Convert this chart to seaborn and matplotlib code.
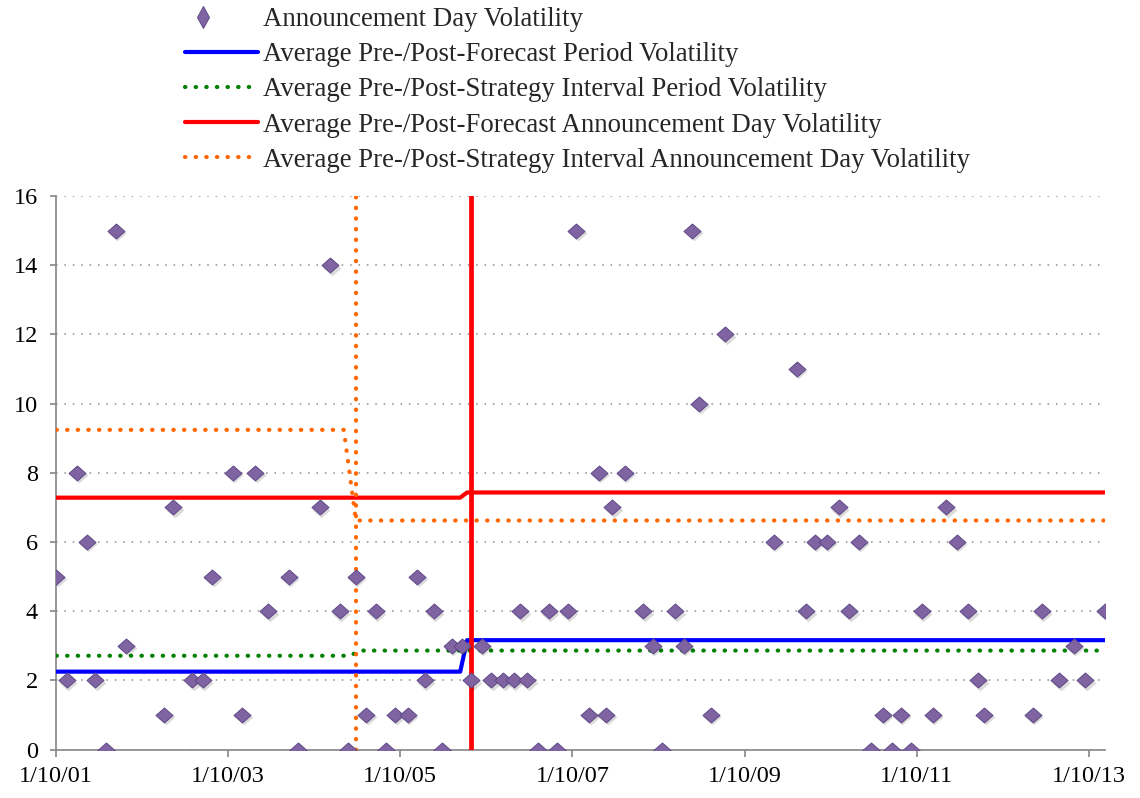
import matplotlib
matplotlib.use("Agg")
import matplotlib.pyplot as plt
import matplotlib.transforms as mtransforms
from matplotlib.path import Path
from matplotlib.lines import Line2D
from matplotlib.legend_handler import HandlerLine2D
import seaborn as sns
import pandas as pd
import numpy as np

# ---------------- data (decimal years) ----------------
announce_year = [
    2001.03, 2001.15, 2001.27, 2001.38, 2001.48, 2001.61, 2001.72, 2001.84,
    2002.28, 2002.39, 2002.61, 2002.73, 2002.84, 2003.08, 2003.19, 2003.34,
    2003.49, 2003.73, 2003.84, 2004.09, 2004.21, 2004.32, 2004.42, 2004.51,
    2004.63, 2004.74, 2004.86, 2004.97, 2005.11, 2005.22, 2005.31, 2005.41,
    2005.51, 2005.62, 2005.74, 2005.85, 2005.97, 2006.08, 2006.22, 2006.34,
    2006.42, 2006.50, 2006.63, 2006.75, 2006.84, 2006.97, 2007.07, 2007.22,
    2007.33, 2007.42, 2007.49, 2007.63, 2007.85, 2007.96, 2008.07, 2008.22,
    2008.32, 2008.42, 2008.50, 2008.63, 2008.80, 2009.36, 2009.63, 2009.74,
    2009.84, 2009.98, 2010.12, 2010.24, 2010.35, 2010.49, 2010.63, 2010.74,
    2010.84, 2010.96, 2011.08, 2011.21, 2011.37, 2011.49, 2011.62, 2011.74,
    2011.81, 2012.37, 2012.48, 2012.68, 2012.85, 2012.98, 2013.21,
]
announce_vol = [
    5, 2, 8, 6, 2, 0, 15, 3,
    1, 7, 2, 2, 5, 8, 1, 8,
    4, 5, 0, 7, 14, 4, 0, 5,
    1, 4, 0, 1, 1, 5, 2, 4,
    0, 3, 3, 2, 3, 2, 2, 2,
    4, 2, 0, 4, 0, 4, 15, 1,
    8, 1, 7, 8, 4, 3, 0, 4,
    3, 15, 10, 1, 12, 6, 11, 4,
    6, 6, 7, 4, 6, 0, 1, 0,
    1, 0, 4, 1, 7, 6, 4, 2,
    1, 1, 4, 2, 3, 2, 4,
]

# average lines (break points)
forecast_avg_x = [2001.03, 2005.72, 2005.80, 2013.21]
forecast_period_avg = [2.25, 2.25, 3.16, 3.16]
forecast_ann_avg = [7.28, 7.28, 7.43, 7.43]
strategy_period_x = [2001.03, 2004.44, 2004.56, 2013.21]
strategy_period_avg = [2.71, 2.71, 2.86, 2.86]
strategy_ann_x = [2001.03, 2004.37, 2004.51, 2013.21]
strategy_ann_avg = [9.24, 9.24, 6.62, 6.62]

strategy_date = 2004.51
forecast_date = 2005.84
vline_y = [0, 16]

tick_dates = ["2001-01-10", "2003-01-10", "2005-01-10", "2007-01-10",
              "2009-01-10", "2011-01-10", "2013-01-10"]
tick_labels = ["1/10/01", "1/10/03", "1/10/05", "1/10/07",
               "1/10/09", "1/10/11", "1/10/13"]

labels = [
    "Announcement Day Volatility",
    "Average Pre-/Post-Forecast Period Volatility",
    "Average Pre-/Post-Strategy Interval Period Volatility",
    "Average Pre-/Post-Forecast Announcement Day Volatility",
    "Average Pre-/Post-Strategy Interval Announcement Day Volatility",
]


def to_date(y):
    yr = int(np.floor(y))
    return pd.Timestamp(year=yr, month=1, day=1) + pd.Timedelta(days=(y - yr) * 365.25)


def dates(lst):
    return [to_date(v) for v in lst]


# ---------------- style ----------------
sns.set_theme(style="white")
plt.rcParams["font.family"] = ["Liberation Serif", "DejaVu Serif"]

fig, ax = plt.subplots(figsize=(11.4, 7.98), dpi=100)
ax.set_position([56 / 1140, 1 - 749.5 / 798, (1105 - 56) / 1140, (749.5 - 196) / 798])

DOT = dict(dash_capstyle="round")
dotted = (0, (0.1, 2.45))

# average lines
sns.lineplot(x=dates(forecast_avg_x), y=forecast_period_avg, ax=ax, color="#0000FF",
             linewidth=3.0, estimator=None, sort=False, label=labels[1], zorder=3)
sns.lineplot(x=dates(strategy_period_x), y=strategy_period_avg, ax=ax, color="#008000",
             linewidth=3.0, linestyle=dotted, estimator=None, sort=False,
             label=labels[2], zorder=3, **DOT)
sns.lineplot(x=dates(forecast_avg_x), y=forecast_ann_avg, ax=ax, color="#FF0000",
             linewidth=3.0, estimator=None, sort=False, label=labels[3], zorder=3)
sns.lineplot(x=dates(strategy_ann_x), y=strategy_ann_avg, ax=ax, color="#FF6600",
             linewidth=3.0, linestyle=dotted, estimator=None, sort=False,
             label=labels[4], zorder=3, **DOT)

# vertical marker lines
sns.lineplot(x=dates([strategy_date, strategy_date]), y=vline_y, ax=ax, color="#FF6600",
             linewidth=3.0, linestyle=dotted, estimator=None, sort=False,
             label="_nolegend_", zorder=3, **DOT)
sns.lineplot(x=dates([forecast_date, forecast_date]), y=vline_y, ax=ax, color="#FF0000",
             linewidth=3.4, estimator=None, sort=False, label="_nolegend_", zorder=3)

# diamond marker (slightly wider than tall)
diamond = Path([(-1.0, 0.0), (0.0, 0.88), (1.0, 0.0), (0.0, -0.88), (-1.0, 0.0)],
               [Path.MOVETO, Path.LINETO, Path.LINETO, Path.LINETO, Path.CLOSEPOLY])

# soft shadow
sns.scatterplot(x=dates(announce_year), y=announce_vol, ax=ax, marker=diamond, s=165,
                color="#000000", alpha=0.14, linewidth=0, label="_nolegend_", zorder=4)
shadow = ax.collections[-1]
shadow.set_offset_transform(ax.transData + mtransforms.ScaledTranslation(1.5 / 100, -2.5 / 100, fig.dpi_scale_trans))

sns.scatterplot(x=dates(announce_year), y=announce_vol, ax=ax, marker=diamond, s=150,
                color="#8064A2", edgecolor="#5F4A88", linewidth=0.7,
                label=labels[0], zorder=5)

# axes
ax.set_ylim(0, 16)
ax.set_yticks(range(0, 17, 2))
ax.set_xlim(pd.Timestamp("2001-01-10"), to_date(2013.21))
ax.set_xticks([pd.Timestamp(d) for d in tick_dates])
ax.set_xticklabels(tick_labels)
ax.set_xlabel("")
ax.set_ylabel("")

ax.yaxis.grid(True, color="#8C8C8C", linestyle=(0, (1, 4.5)), linewidth=1.1)
ax.xaxis.grid(False)
ax.set_axisbelow(True)
for s in ["top", "right"]:
    ax.spines[s].set_visible(False)
for s in ["left", "bottom"]:
    ax.spines[s].set_color("#868686")
    ax.spines[s].set_linewidth(1.2)
    ax.spines[s].set_zorder(2)
ax.tick_params(axis="both", which="major", direction="out", length=4, width=1.2,
               color="#868686", labelsize=17.5, labelcolor="black")
ax.tick_params(axis="y", pad=9)
ax.tick_params(axis="x", pad=7, length=5)
ax.tick_params(left=True, bottom=True)

# legend
if ax.get_legend() is not None:
    ax.get_legend().remove()
h, l = ax.get_legend_handles_labels()
lookup = dict(zip(l, h))
legend_marker = Line2D([], [], linestyle="none", marker="d", markersize=11,
                       color="#8064A2", markeredgecolor="#5F4A88", markeredgewidth=0.7)
handles = [legend_marker] + [lookup[t] for t in labels[1:]]


class LeftMarkerHandler(HandlerLine2D):
    def get_xdata(self, legend, xdescent, ydescent, width, height, fontsize):
        x = -xdescent + 0.25 * width
        return [x], [x]


fig.legend(handles, labels, loc="upper left", bbox_to_anchor=(185 / 1140, 1 - 7 / 798),
           frameon=False, fontsize=19.3, handlelength=2.72, handletextpad=0.2,
           labelspacing=0.38, borderpad=0, borderaxespad=0, numpoints=1,
           handler_map={legend_marker: LeftMarkerHandler(numpoints=1)})

fig.savefig("out.png", dpi=100)
